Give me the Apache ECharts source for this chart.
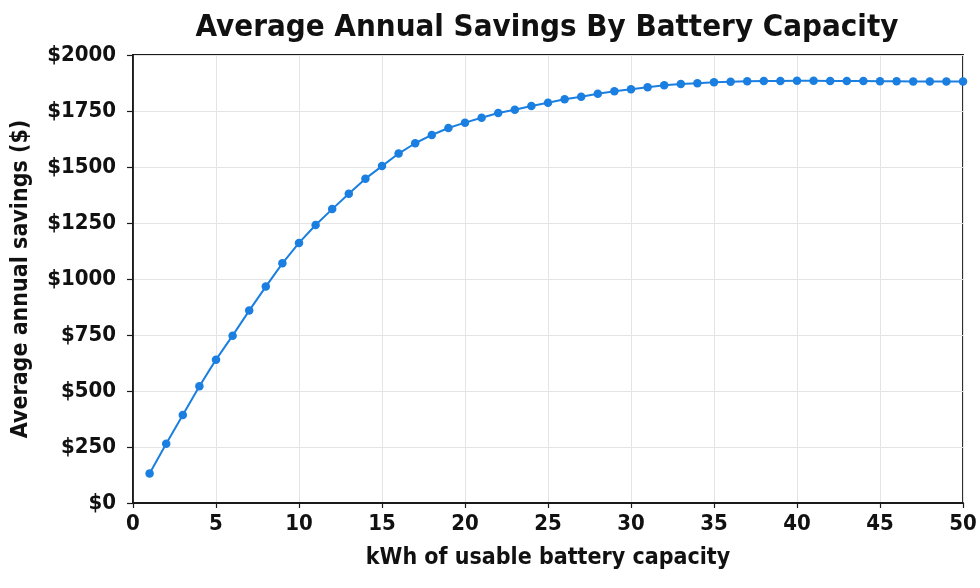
<!DOCTYPE html>
<html>
<head>
<meta charset="utf-8">
<script src="https://cdn.jsdelivr.net/npm/echarts@6/dist/echarts.min.js"></script>
<style>
  html, body { margin: 0; padding: 0; background: #fff; }
  #chart-ctn { width: 980px; height: 588px; }
</style>
</head>
<body>
<div id="chart-ctn"></div>
<script>
var capacity = [1, 2, 3, 4, 5, 6, 7, 8, 9, 10,
  11, 12, 13, 14, 15, 16, 17, 18, 19, 20,
  21, 22, 23, 24, 25, 26, 27, 28, 29, 30,
  31, 32, 33, 34, 35, 36, 37, 38, 39, 40,
  41, 42, 43, 44, 45, 46, 47, 48, 49, 50];
var savings = [132, 265, 393, 521, 640, 747, 859, 966, 1070, 1161,
  1241, 1312, 1381, 1448, 1504, 1560, 1606, 1643, 1674, 1698,
  1720, 1741, 1756, 1772, 1787, 1802, 1814, 1827, 1838, 1847,
  1856, 1865, 1871, 1874, 1878, 1881, 1883, 1884, 1884, 1885,
  1885, 1884, 1884, 1884, 1883, 1883, 1882, 1882, 1882, 1882];

var fontName = 'DejaVu Sans Condensed';
var points = [];
for (var i = 0; i < capacity.length; i++) {
  points.push([capacity[i], savings[i]]);
}

var myChart = echarts.init(document.getElementById('chart-ctn'));
var option = {
  animation: false,
  title: {
    text: 'Average Annual Savings By Battery Capacity',
    left: 542,
    textAlign: 'center',
    top: 7,
    textStyle: { fontFamily: fontName, fontWeight: 'bold', fontSize: 31, color: '#111' }
  },
  grid: {
    left: 133, right: 17, top: 55, bottom: 85,
    show: true, borderColor: '#1a1a1a', borderWidth: 1.8
  },
  xAxis: {
    type: 'value', min: 0, max: 50, interval: 5,
    name: 'kWh of usable battery capacity',
    nameLocation: 'middle', nameGap: 44,
    nameTextStyle: { fontFamily: fontName, fontWeight: 'bold', fontSize: 23, color: '#111' },
    axisLine: { lineStyle: { color: '#1a1a1a', width: 1.8 } },
    axisTick: { show: true, length: 5, lineStyle: { color: '#1a1a1a', width: 1.2 } },
    axisLabel: { fontFamily: fontName, fontWeight: 'bold', fontSize: 22, color: '#111', margin: 10 },
    splitLine: { show: true, lineStyle: { color: '#e4e4e4', width: 1 } }
  },
  yAxis: {
    type: 'value', min: 0, max: 2000, interval: 250,
    name: 'Average annual savings ($)',
    nameLocation: 'middle', nameGap: 100,
    nameTextStyle: { fontFamily: fontName, fontWeight: 'bold', fontSize: 23, color: '#111' },
    axisLine: { show: true, lineStyle: { color: '#1a1a1a', width: 1.8 } },
    axisTick: { show: true, length: 6, lineStyle: { color: '#1a1a1a', width: 1.2 } },
    axisLabel: {
      fontFamily: fontName, fontWeight: 'bold', fontSize: 22, color: '#111', margin: 17,
      formatter: function (v) { return '$' + v; }
    },
    splitLine: { show: true, lineStyle: { color: '#e4e4e4', width: 1 } }
  },
  series: [{
    type: 'line',
    data: points,
    symbol: 'circle',
    symbolSize: 8.5,
    lineStyle: { color: '#1a7fe0', width: 2 },
    itemStyle: { color: '#1a7fe0' }
  }]
};
myChart.setOption(option);
</script>
</body>
</html>
